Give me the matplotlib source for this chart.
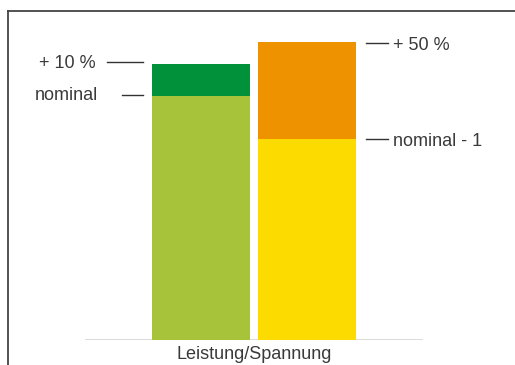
import matplotlib.pyplot as plt
from matplotlib.lines import Line2D

# Werte (beliebige Einheit)
bars = ['Leistung', 'Spannung']
nominal = [244, 201]
extra = [32, 97]
base_colors = ['#a6c33a', '#fcdb00']
top_colors = ['#00913a', '#ef9200']
left_labels = ['+ 10 %', 'nominal']
right_labels = ['+ 50 %', 'nominal - 1']
xlabel = 'Leistung/Spannung'

plt.rcParams['font.family'] = ['Liberation Sans', 'DejaVu Sans']

W, H = 515, 365
fig = plt.figure(figsize=(W / 100, H / 100), dpi=100)
ax = fig.add_axes([85 / W, 25 / H, 338 / W, 320 / H])

x = [0, 1]
bw = 0.93
ax.bar(x, nominal, width=bw, color=base_colors, linewidth=0)
ax.bar(x, extra, bottom=nominal, width=bw, color=top_colors, linewidth=0)
ax.axhline(0, color='#dcdcdc', lw=2.2, zorder=0)

ax.set_xlim(-1.1, 2.1)
ax.set_ylim(0, 320)
for s in ax.spines.values():
    s.set_visible(False)
ax.set_xticks([])
ax.set_yticks([])
ax.set_xlabel(xlabel, fontsize=13, color='#3a3a3a', labelpad=4)

txt = dict(fontsize=13, color='#3a3a3a', va='center')
# linke Beschriftungen (gruener Balken)
g_top = nominal[0] + extra[0]
ax.plot([-0.89, -0.55], [g_top + 2, g_top + 2], color='#333333', lw=1, clip_on=False)
ax.text(-1.0, g_top, left_labels[0], ha='right', **txt)
ax.plot([-0.75, -0.55], [nominal[0] + 1, nominal[0] + 1], color='#333333', lw=1, clip_on=False)
ax.text(-0.98, nominal[0], left_labels[1], ha='right', **txt)

# rechte Beschriftungen (gelber Balken)
o_top = nominal[1] + extra[1]
ax.plot([1.56, 1.77], [o_top - 1, o_top - 1], color='#333333', lw=1, clip_on=False)
ax.text(1.82, o_top - 3, right_labels[0], ha='left', **txt)
ax.plot([1.56, 1.77], [nominal[1], nominal[1]], color='#333333', lw=1, clip_on=False)
ax.text(1.82, nominal[1] - 2, right_labels[1], ha='left', **txt)

# Rahmen
fig.add_artist(Line2D([8 / W, 8 / W], [0, 1 - 11 / H], color='#444444', lw=1.3))
fig.add_artist(Line2D([8 / W, 1], [1 - 11 / H, 1 - 11 / H], color='#444444', lw=1.3))

fig.savefig('out.png', dpi=100)
